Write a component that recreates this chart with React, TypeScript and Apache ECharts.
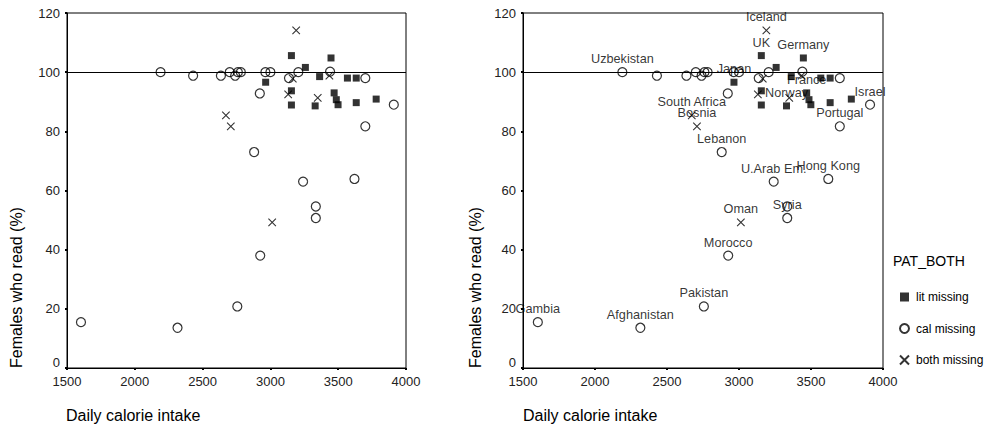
import React, { useEffect, useRef } from "react";
import * as echarts from "echarts";

// Lit missing (squares)
const litCal = [3155, 3447, 3258, 2965, 3363, 3568, 3633, 3155, 3155, 3330, 3470, 3486, 3499, 3633, 3780];
const litRead = [105.6, 104.8, 101.6, 96.6, 98.5, 98.0, 98.0, 93.7, 88.9, 88.6, 93.0, 90.7, 89.0, 89.7, 90.9];
const litNames = ["UK", "Germany", "", "Japan", "", "", "", "", "", "Norway", "France", "", "", "", ""];

// Cal missing (circles)
const calCal = [2190, 2430, 2635, 2700, 2740, 2760, 2782, 2922, 2963, 3000, 3137, 3206, 3440, 3700, 3910, 3700, 2880, 3241, 3620, 3335, 3335, 2925, 2756, 1603, 2315];
const calRead = [100, 98.8, 98.8, 100, 98.8, 100, 100, 92.8, 100, 100, 98.0, 100, 100.2, 98.0, 89.0, 81.7, 73.0, 63.0, 63.9, 54.6, 50.7, 38.0, 20.8, 15.5, 13.6];
const calNames = ["Uzbekistan", "", "", "", "", "", "", "", "", "", "", "", "", "", "Israel", "Portugal", "Lebanon", "U.Arab Em.", "Hong Kong", "", "Syria", "Morocco", "Pakistan", "Gambia", "Afghanistan"];

// Both missing (crosses)
const bothCal = [3190, 3165, 3131, 3349, 3435, 2672, 2708, 3013];
const bothRead = [114.1, 97.8, 92.5, 91.3, 98.8, 85.4, 81.7, 49.2];
const bothNames = ["Iceland", "", "", "", "", "South Africa", "Bosnia", "Oman"];

const xTicks = { min: 1500, max: 4000, interval: 500 };
const yTicks = { min: 0, max: 120, interval: 20 };
const refLine = 100;

const groupNames = ["lit missing", "cal missing", "both missing"];
const FONT = "'Liberation Sans', Arial, sans-serif";

function build(xs: number[], ys: number[], names: string[]) {
  return xs.map((x, i) => ({ value: [x, ys[i]], name: names[i] }));
}

const crossPath = "path://M0,0L10,10M0,10L10,0";

function seriesFor(gridIdx: number, withLabels: boolean) {
  const label = {
    show: withLabels,
    position: "inside",
    offset: [0, -13],
    formatter: (p: any) => p.name || "",
    color: "#000",
    fontSize: 12.7,
    fontFamily: FONT,
    textBorderWidth: 0,
  };
  return [
    {
      name: groupNames[0],
      type: "scatter",
      xAxisIndex: gridIdx,
      yAxisIndex: gridIdx,
      symbol: "rect",
      symbolSize: 7,
      itemStyle: { color: "#000" },
      label,
      data: build(litCal, litRead, litNames),
      markLine: {
        silent: true,
        symbol: ["none", "none"],
        label: { show: false },
        lineStyle: { color: "#000", width: 1, type: "solid" },
        data: [{ yAxis: refLine }],
      },
    },
    {
      name: groupNames[1],
      type: "scatter",
      xAxisIndex: gridIdx,
      yAxisIndex: gridIdx,
      symbol: "circle",
      symbolSize: 9,
      itemStyle: { color: "rgba(255,255,255,0)", borderColor: "#000", borderWidth: 1.2 },
      label,
      data: build(calCal, calRead, calNames),
    },
    {
      name: groupNames[2],
      type: "scatter",
      xAxisIndex: gridIdx,
      yAxisIndex: gridIdx,
      symbol: crossPath,
      symbolSize: 7.5,
      itemStyle: { color: "rgba(0,0,0,0)", borderColor: "#000", borderWidth: 1.1 },
      label,
      data: build(bothCal, bothRead, bothNames),
    },
  ];
}

function axisCommon() {
  return {
    type: "value",
    axisLine: { show: true, lineStyle: { color: "#000", width: 1 } },
    axisTick: { show: true, length: 2, lineStyle: { color: "#000", width: 2 } },
    splitLine: { show: false },
    axisLabel: { color: "#222", fontSize: 13, fontFamily: FONT, margin: 7, formatter: (v: number) => String(v) },
  };
}

export default function App() {
  const ref = useRef<HTMLDivElement>(null);
  useEffect(() => {
    if (!ref.current) return;
    const chart = echarts.init(ref.current, undefined, { renderer: "svg" });
    const grids = [
      { left: 67, top: 13, width: 339, height: 355 },
      { left: 523, top: 13, width: 360, height: 355 },
    ];
    chart.setOption({
      animation: false,
      backgroundColor: "#fff",
      grid: grids.map((g) => ({ ...g, show: true, borderColor: "#000", borderWidth: 1, backgroundColor: "transparent" })),
      xAxis: [0, 1].map((i) => ({ ...axisCommon(), gridIndex: i, ...xTicks })),
      yAxis: [0, 1].map((i) => ({
        ...axisCommon(),
        gridIndex: i,
        ...yTicks,
        axisLabel: {
          ...axisCommon().axisLabel,
          margin: 7,
          formatter: (v: number) => (v === 0 ? "{z|0}" : String(v)),
          rich: { z: { fontSize: 13, fontFamily: FONT, color: "#222", padding: [0, 0, 12, 0] } },
        },
      })),
      legend: {
        orient: "vertical",
        left: 899,
        top: 291,
        padding: 0,
        itemWidth: 9,
        itemHeight: 9,
        itemGap: 19.5,
        textStyle: { fontSize: 12, fontFamily: FONT, color: "#000", padding: [0, 0, 0, 2] },
        data: groupNames,
      },
      graphic: [
        { type: "text", left: 893, top: 254, style: { text: "PAT_BOTH", fontSize: 14, fontFamily: FONT, fill: "#000" } },
        { type: "text", x: 16, y: 368, rotation: Math.PI / 2, style: { text: "Females who read (%)", fontSize: 16, fontFamily: FONT, fill: "#000", textAlign: "left", textVerticalAlign: "middle" } },
        { type: "text", x: 475, y: 368, rotation: Math.PI / 2, style: { text: "Females who read (%)", fontSize: 16, fontFamily: FONT, fill: "#000", textAlign: "left", textVerticalAlign: "middle" } },
        { type: "text", x: 66, y: 415, style: { text: "Daily calorie intake", fontSize: 16, fontFamily: FONT, fill: "#000", textAlign: "left", textVerticalAlign: "middle" } },
        { type: "text", x: 523, y: 415, style: { text: "Daily calorie intake", fontSize: 16, fontFamily: FONT, fill: "#000", textAlign: "left", textVerticalAlign: "middle" } },
      ],
      series: [...seriesFor(0, false), ...seriesFor(1, true)],
    });
    return () => chart.dispose();
  }, []);
  return <div ref={ref} style={{ position: "absolute", left: 0, top: 0, width: 989, height: 431 }} />;
}
